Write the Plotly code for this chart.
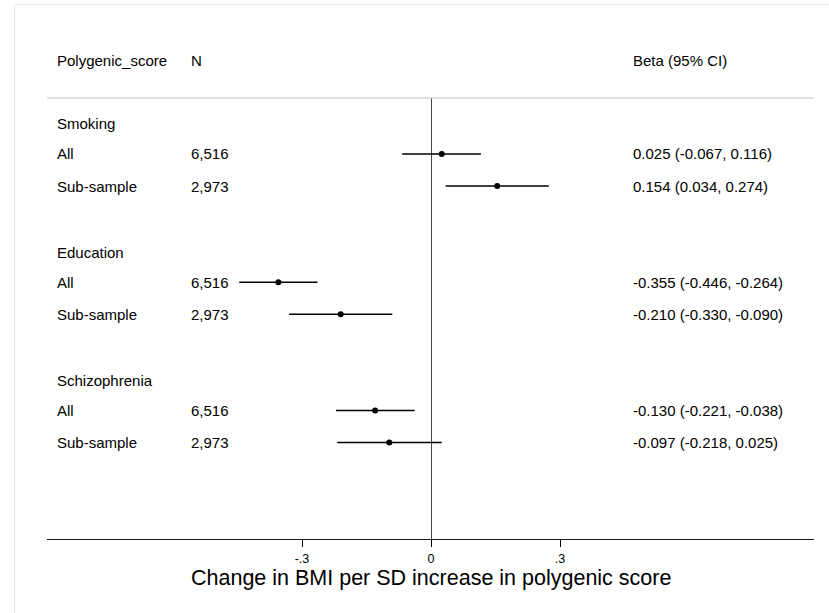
import plotly.graph_objects as go

# ---- data ----
groups = ["Smoking", "Education", "Schizophrenia"]
subgroups = ["All", "Sub-sample"]
n_obs = [6516, 2973, 6516, 2973, 6516, 2973]
beta = [0.025, 0.154, -0.355, -0.210, -0.130, -0.097]
ci_lo = [-0.067, 0.034, -0.446, -0.330, -0.221, -0.218]
ci_hi = [0.116, 0.274, -0.264, -0.090, -0.038, 0.025]
tick_vals = [-0.3, 0, 0.3]
tick_text = ["-.3", "0", ".3"]
headers = ["Polygenic_score", "N", "Beta (95% CI)"]
x_title = "Change in BMI per SD increase in polygenic score"

FONT = "Liberation Sans, Arial, sans-serif"
W, H = 829, 613
L, R, T, B = 47, 15, 98, 73.5

# row layout: group label row, then one row per subgroup, then a blank row
rows_y, row_lab = [], []
group_y = []
for g_i, g in enumerate(groups):
    group_y.append(4 * g_i)
    for s_i, s in enumerate(subgroups):
        rows_y.append(4 * g_i + 1 + s_i)
        row_lab.append(s)

fig = go.Figure()
fig.add_trace(go.Scatter(
    x=beta, y=rows_y, mode="markers",
    marker=dict(color="black", size=6),
    error_x=dict(type="data", symmetric=False,
                 array=[h - b for h, b in zip(ci_hi, beta)],
                 arrayminus=[b - l for b, l in zip(beta, ci_lo)],
                 color="black", thickness=1.4, width=0),
    showlegend=False, hoverinfo="skip", cliponaxis=False,
))

ann = []
col_x = [0.0104, 0.1851, 0.7614]
txt = dict(family=FONT, size=15, color="black")
hdr_y = 1 + (98 - 60.7) / (H - T - B)
for hx, ht in zip(col_x, headers):
    ann.append(dict(x=hx, y=hdr_y, xref="paper", yref="paper", text=ht,
                    showarrow=False, xanchor="left", yanchor="middle", font=txt))
for gy, g in zip(group_y, groups):
    ann.append(dict(x=col_x[0], y=gy, xref="paper", yref="y", text=g, yshift=-2,
                    showarrow=False, xanchor="left", yanchor="middle", font=txt))
for ry, lab, n, b, l, h in zip(rows_y, row_lab, n_obs, beta, ci_lo, ci_hi):
    ann.append(dict(x=col_x[0], y=ry, xref="paper", yref="y", text=lab,
                    showarrow=False, xanchor="left", yanchor="middle", font=txt))
    ann.append(dict(x=col_x[1], y=ry, xref="paper", yref="y", text=f"{n:,}",
                    showarrow=False, xanchor="left", yanchor="middle", font=txt))
    ann.append(dict(x=col_x[2], y=ry, xref="paper", yref="y",
                    text=f"{b:.3f} ({l:.3f}, {h:.3f})",
                    showarrow=False, xanchor="left", yanchor="middle", font=txt))
# axis title
ann.append(dict(x=0.5, y=-(578.5 - (H - B)) / (H - T - B), xref="paper", yref="paper",
                text=x_title, showarrow=False, xanchor="center", yanchor="middle",
                font=dict(family=FONT, size=21.5, color="black")))

shapes = [
    # header separator
    dict(type="line", xref="paper", yref="paper", x0=0, x1=1, y0=1, y1=1,
         line=dict(color="#c4c4c4", width=1)),
    # outer frame
    dict(type="rect", xref="paper", yref="paper",
         x0=(14.5 - L) / (W - L - R), x1=1.5,
         y0=-0.5, y1=1 + (T - 4.5) / (H - T - B),
         line=dict(color="#e3eaee", width=1), fillcolor="rgba(0,0,0,0)", layer="below"),
]

x0 = (L - 431) / 430
x1 = (W - R - 431) / 430
fig.update_layout(
    width=W, height=H,
    margin=dict(l=L, r=R, t=T, b=B),
    paper_bgcolor="white", plot_bgcolor="white",
    font=dict(family=FONT, color="black"),
    xaxis=dict(range=[x0, x1], tickvals=tick_vals, ticktext=tick_text,
               ticks="outside", ticklen=7, tickwidth=1.2, tickcolor="black",
               ticklabelstandoff=1,
               showline=True, linecolor="#1a1a1a", linewidth=1.3,
               showgrid=False, zeroline=True, zerolinecolor="#4a4a4a",
               zerolinewidth=1.3, tickfont=dict(family=FONT, size=12.5, color="black")),
    yaxis=dict(range=[13.01, -0.745], visible=False, showgrid=False, zeroline=False),
    annotations=ann, shapes=shapes,
)

fig.write_html("out.html")
